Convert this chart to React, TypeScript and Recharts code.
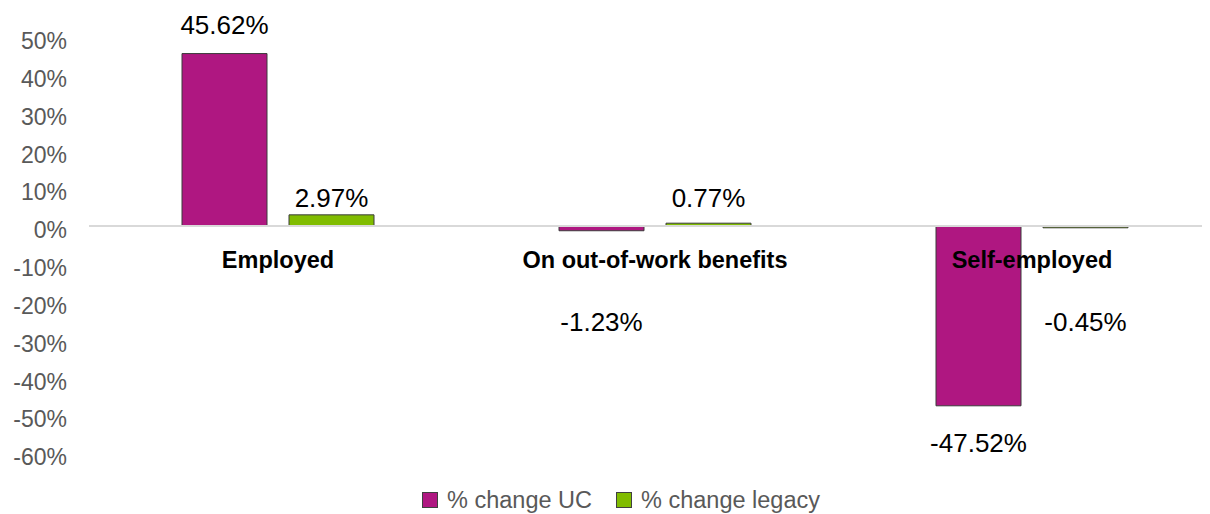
import React from 'react';
import {
  BarChart,
  Bar,
  XAxis,
  YAxis,
  ReferenceLine,
  Legend,
  LabelList,
} from 'recharts';

const categories = ['Employed', 'On out-of-work benefits', 'Self-employed'];
const ucChange = [45.62, -1.23, -47.52];
const legacyChange = [2.97, 0.77, -0.45];
const yTicks = [-60, -50, -40, -30, -20, -10, 0, 10, 20, 30, 40, 50];

const FONT = '"Liberation Sans", Arial, sans-serif';
const UC_COLOR = '#AF1781';
const LEGACY_COLOR = '#80BC00';
const BAR_GAP = 22;

const data = categories.map((name, i) => ({
  name,
  uc: ucChange[i],
  legacy: legacyChange[i],
}));

const box = (props: any) => {
  const vb = props.viewBox || props;
  const y = Number(vb.y);
  const h = Number(vb.height);
  const top = Math.min(y, y + h);
  const bottom = Math.max(y, y + h);
  return { x: Number(vb.x), width: Number(vb.width), top, bottom };
};

// Excel-ish placement: big bars get the label at the outside end,
// tiny bars get it pushed away from the zero line
const ValueLabel = (props: any) => {
  const { x, width, top, bottom } = box(props);
  const value = Number(props.value);
  const px = bottom - top;
  let cy: number;
  if (value >= 0) {
    cy = px > 30 ? top - 29 : bottom - 28;
  } else {
    cy = px > 30 ? bottom + 37 : top + 96;
  }
  return (
    <text
      x={x + width / 2}
      y={cy}
      dy="0.35em"
      textAnchor="middle"
      fontFamily={FONT}
      fontSize={26}
      fill="#000"
    >
      {`${value.toFixed(2)}%`}
    </text>
  );
};

const CategoryLabel = (props: any) => {
  const { x, width, top, bottom } = box(props);
  const value = Number(props.value);
  const zero = value >= 0 ? bottom : top;
  const name = categories[props.index] ?? '';
  return (
    <text
      x={x + width + BAR_GAP / 2}
      y={zero + 34}
      dy="0.35em"
      textAnchor="middle"
      fontFamily={FONT}
      fontSize={23.5}
      fontWeight="bold"
      fill="#000"
    >
      {name}
    </text>
  );
};

const YTick = (props: any) => {
  const { x, y, payload } = props;
  return (
    <text
      x={x}
      y={y + 4}
      dy="0.355em"
      textAnchor="end"
      fontFamily={FONT}
      fontSize={23}
      fill="#595959"
    >
      {`${payload.value}%`}
    </text>
  );
};

const LegendContent = () => {
  const items = [
    { label: '% change UC', color: UC_COLOR },
    { label: '% change legacy', color: LEGACY_COLOR },
  ];
  return (
    <div
      style={{
        display: 'flex',
        justifyContent: 'center',
        gap: 24,
        fontFamily: FONT,
        fontSize: 23.5,
        color: '#595959',
        lineHeight: '26px',
        paddingLeft: 14,
      }}
    >
      {items.map((it) => (
        <div key={it.label} style={{ display: 'flex', alignItems: 'center' }}>
          <span
            style={{
              display: 'inline-block',
              width: 14,
              height: 14,
              background: it.color,
              border: '1px solid #404040',
              marginRight: 9,
            }}
          />
          <span>{it.label}</span>
        </div>
      ))}
    </div>
  );
};

export default function App() {
  return (
    <div style={{ width: 1220, height: 506 }}>
      <BarChart
        width={1220}
        height={506}
        data={data}
        margin={{ top: 29, right: 8, bottom: 35, left: 0 }}
        barGap={BAR_GAP}
        barSize={85}
      >
        <XAxis dataKey="name" hide />
        <YAxis
          width={81}
          domain={[-60, 50]}
          ticks={yTicks}
          interval={0}
          axisLine={false}
          tickLine={false}
          tickSize={0}
          tickMargin={22}
          tick={<YTick />}
        />
        <ReferenceLine y={0} stroke="#D9D9D9" strokeWidth={2} />
        <Legend
          verticalAlign="bottom"
          content={<LegendContent />}
          wrapperStyle={{ height: 26, bottom: 1 }}
        />
        <Bar dataKey="uc" fill={UC_COLOR} stroke="#3a3a3a" strokeWidth={1} isAnimationActive={false}>
          <LabelList dataKey="uc" content={<ValueLabel />} />
          <LabelList dataKey="uc" content={<CategoryLabel />} />
        </Bar>
        <Bar dataKey="legacy" fill={LEGACY_COLOR} stroke="#3a3a3a" strokeWidth={1} isAnimationActive={false}>
          <LabelList dataKey="legacy" content={<ValueLabel />} />
        </Bar>
      </BarChart>
    </div>
  );
}
